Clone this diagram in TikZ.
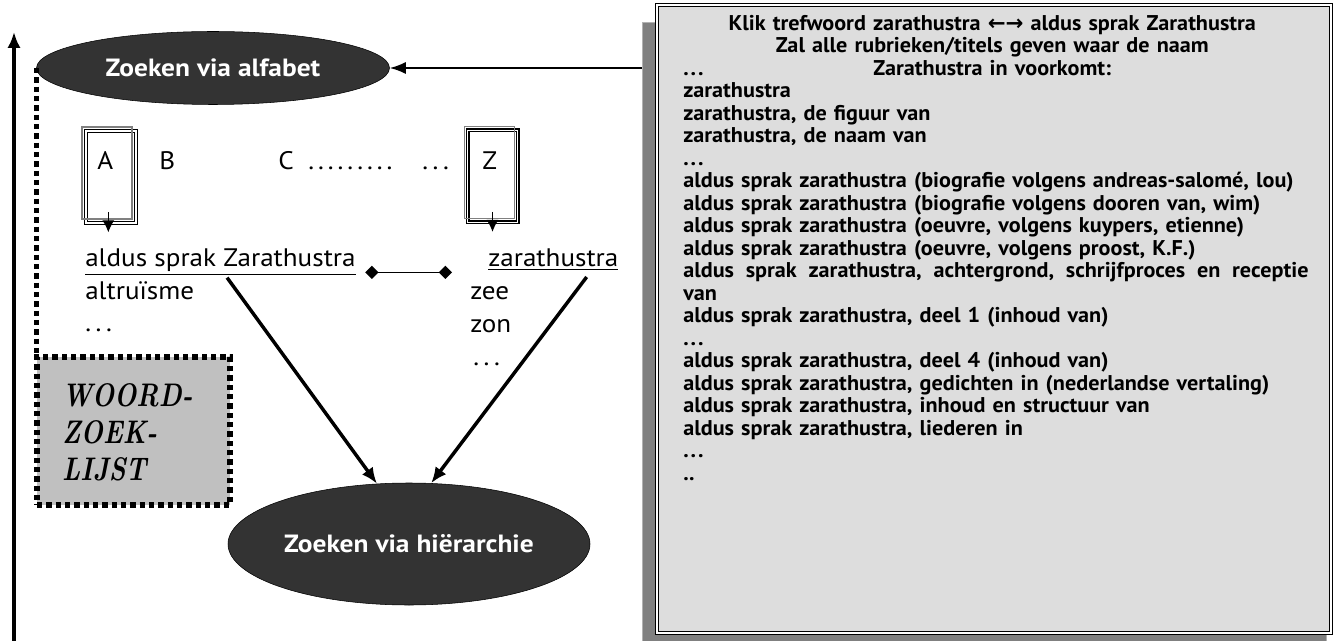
\documentclass[tikz,border=0pt]{standalone}
\usepackage{fontspec}
\usetikzlibrary{arrows.meta,shapes.geometric,positioning,fit}
\newfontfamily\myriad[FakeStretch=1.07]{PT Sans}
\newfontfamily\myriadbold[FakeStretch=1.1]{PT Sans}
\newfontfamily\listfont[FakeStretch=1.04]{PT Sans}
\newfontfamily\symfont{DejaVu Sans}
\definecolor{ovalfill}{HTML}{333333}
\definecolor{listfill}{HTML}{DDDDDD}
\definecolor{shadowgray}{HTML}{808080}
\definecolor{woordfill}{HTML}{C0C0C0}
\newcommand{\tridots}[1]{.\kern#1.\kern#1.}
\newcommand{\thickline}[1]{\underline{#1}}

\begin{document}
\begin{tikzpicture}[x=0.75pt,y=-0.75pt,>=Latex]
    \tikzset{oval/.style={draw, ellipse, fill=ovalfill, text=white, inner sep=0pt,
        font=\myriadbold\bfseries\fontsize{18.7}{20}\selectfont},
        card/.style={draw, double, double distance=1.2pt, line width=0.9pt,
        minimum width=37.5pt, minimum height=69pt, outer sep=0pt},
        cardback/.style={draw=gray, line width=1.3pt},
        letter/.style={anchor=base west, inner sep=0pt, font=\myriad\fontsize{19}{21}\selectfont},
        dots/.style={line width=4pt, dash pattern=on 4pt off 3pt},
        thick arrow/.style={->, line width=2.6pt, >={Latex[length=12pt,width=10pt]}},
        thin arrow/.style={->, line width=0.9pt, >={Latex[length=9pt,width=9pt]}},
        link/.style={{Diamond[length=10pt,width=10pt]}-{Diamond[length=10pt,width=10pt]}, line width=1.1pt},
        }
    \useasboundingbox (0,0) rectangle (1334,641);

%% list of titles on the right
    \node [fit={(642,22) (1326,641)}, inner sep=0pt, fill=shadowgray, draw=gray!60] (listshadow) {};
    \node [fit={(657,5) (1331,633)}, inner sep=0pt, fill=listfill, draw, double, double distance=1.5pt, line width=1pt] (listbox) {};
    \node [anchor=north west, inner sep=0pt, text width=500pt, align=left,
        font=\listfont\bfseries\fontsize{16}{16.875}\selectfont] (listtext) at (683,15) {%
        \makebox[463.5pt][c]{Klik trefwoord zarathustra {\symfont\bfseries ←→} aldus sprak Zarathustra}\\
        \makebox[463.5pt][c]{Zal alle rubrieken/titels geven waar de naam}\\
        \makebox[0pt][l]{\tridots{1.5pt}}\makebox[463.5pt][c]{Zarathustra in voorkomt:}\\
        zarathustra\\
        zarathustra, de figuur van\\
        zarathustra, de naam van\\
        \tridots{1.5pt}\\
        aldus sprak zarathustra (biografie volgens andreas-salomé, lou)\\
        aldus sprak zarathustra (biografie volgens dooren van, wim)\\
        aldus sprak zarathustra (oeuvre, volgens kuypers, etienne)\\
        aldus sprak zarathustra (oeuvre, volgens proost, K.F.)\\
        \makebox[469pt][l]{aldus\hfill sprak\hfill zarathustra,\hfill achtergrond,\hfill schrijfproces\hfill en\hfill receptie}\\
        van\\
        aldus sprak zarathustra, deel 1 (inhoud van)\\
        \tridots{1.5pt}\\
        aldus sprak zarathustra, deel 4 (inhoud van)\\
        aldus sprak zarathustra, gedichten in (nederlandse vertaling)\\
        aldus sprak zarathustra, inhoud en structuur van\\
        aldus sprak zarathustra, liederen in\\
        \tridots{1.5pt}\\
        ..};

%% the two ways of searching
    \node [oval, minimum width=264.75pt, minimum height=54.75pt] (alfabet) at (213,68) {Zoeken via alfabet};
    \node [oval, minimum width=271.5pt, minimum height=91.5pt] (hier) at (409,544) {Zoeken via hiërarchie};

%% word list box
    \node [fit={(37,357) (230,505)}, inner sep=0pt, fill=woordfill, draw, dots] (woord) {};
    \node [anchor=north west, inner sep=0pt, align=left, xscale=0.8,
        font=\rmfamily\bfseries\itshape\fontsize{24.5}{27.75}\selectfont] (woordlabel) at (62,383) {WOORD-\\ZOEK-\\LIJST};

%% alphabet cards
    \node [card] (cardA) at (111,177) {};
    \node [card] (cardZ) at (492.5,176.5) {};
    \draw [cardback] ([shift={(-4,-4)}]cardA.north west) rectangle ([shift={(-4,-4)}]cardA.south east);
    \draw [cardback] ([shift={(-3,-4)}]cardZ.north west) rectangle ([shift={(-3,-4)}]cardZ.south east);
    \node [letter] (letA) at (97,170) {A};
    \node [letter] (letB) at (159,170) {B};
    \node [letter] (letC) at (278,170) {C};
    \node [letter] (dotsC) at (308,170) {.\kern3pt.\kern3pt.\kern3pt.\kern3pt.\kern3pt.\kern3pt.\kern3pt.\kern3pt.};
    \node [letter] (dotsZ) at (422,170) {\tridots{3.5pt}};
    \node [letter] (letZ) at (482,170) {Z};

%% entries
    \node [letter] (aldus) at (85,267) {\thickline{aldus sprak Zarathustra}};
    \node [letter] (altru) at (85,300) {altruïsme};
    \node [letter] (moreL) at (85,332) {\tridots{3.5pt}};
    \node [letter] (zara) at (488,267) {\thickline{zarathustra}};
    \node [letter] (zee) at (470,300) {zee};
    \node [letter] (zon) at (470,333) {zon};
    \node [letter] (moreR) at (473,365) {\tridots{3.5pt}};

%% paths
    \coordinate (bottomend) at (14,641);
    \coordinate (topend) at (14,32);
    \draw [thick arrow] (bottomend) -- (topend);
    \draw [dots] (alfabet.west) -- (alfabet.west |- woord.north);
    \draw [->, line width=1.3pt, >={Latex[length=12pt,width=9pt]}] (listshadow.west |- alfabet.east) -- (alfabet.east);
    \draw [thin arrow] ([xshift=-2pt,yshift=8pt]cardA.south) -- ([xshift=-2pt,yshift=-7pt]cardA.south);
    \draw [thin arrow] ([yshift=8pt]cardZ.south) -- ([yshift=-7pt]cardZ.south);
    \draw [link] ([xshift=7pt,yshift=-4pt]aldus.base east) -- ([xshift=-27pt,yshift=-4pt]zara.base west);
    \draw [thick arrow] ([xshift=5pt,yshift=-8pt]aldus.base) -- (hier.118);
    \draw [thick arrow] ([xshift=25pt,yshift=-7.5pt]zara.base) -- (hier.70);
\end{tikzpicture}
\end{document}
